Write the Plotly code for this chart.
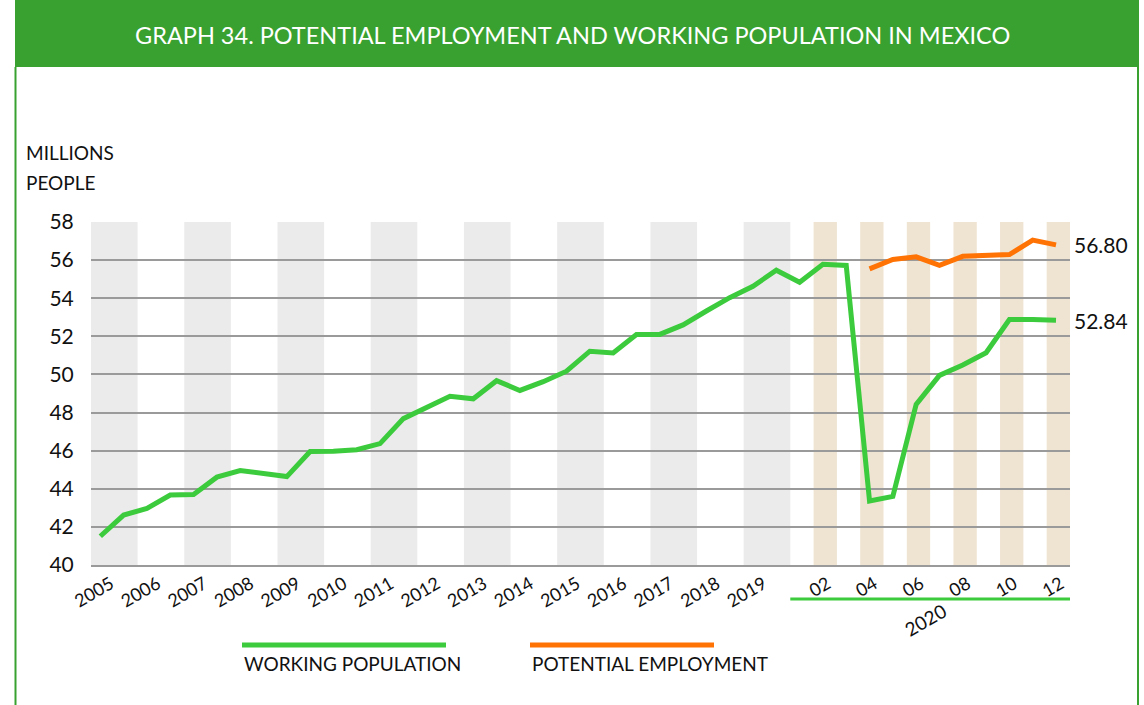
import plotly.graph_objects as go

# ---------------- data ----------------
years = [str(y) for y in range(2005, 2020)]
# working population, two observations per year 2005-2019 (millions)
wp_semi = [41.51, 42.62, 42.97, 43.67, 43.70, 44.61, 44.96, 44.80, 44.64, 45.96,
           45.97, 46.05, 46.37, 47.68, 48.28, 48.85, 48.72, 49.67, 49.16, 49.62,
           50.17, 51.22, 51.13, 52.10, 52.10, 52.60, 53.33, 54.03, 54.63, 55.47]
months_2020 = ["01", "02", "03", "04", "05", "06", "07", "08", "09", "10", "11", "12"]
wp_2020 = [54.84, 55.78, 55.72, 43.36, 43.60, 48.43, 49.95, 50.50, 51.14, 52.88, 52.88, 52.84]
pe_2020 = [None, None, None, 55.54, 56.03, 56.17, 55.73, 56.20, 56.25, 56.29, 57.05, 56.80]
y_ticks = [40, 42, 44, 46, 48, 50, 52, 54, 56, 58]
end_labels = ["56.80", "52.84"]

# ---------------- styling ----------------
GREEN = "#3CCB3C"
ORANGE = "#FF7304"
BAR = "#38A12F"
GRAY_BAND = "#EBEBEB"
TAN_BAND = "#EFE4D1"
FONT = "Lato"

W, H = 1144, 705
L, R, T, B = 91, 1070, 222, 565


def px(xp):
    return (xp - L) / (R - L)


def py(yp):
    return (B - yp) / (B - T)


n_semi = len(wp_semi)
off = 0.4
x_semi = [k + off for k in range(n_semi)]
x_month = [n_semi + i + off for i in range(len(months_2020))]

fig = go.Figure()

fig.add_trace(go.Scatter(x=x_semi + x_month, y=wp_semi + wp_2020, mode="lines",
                         line=dict(color=GREEN, width=5), hoverinfo="skip", showlegend=False))
fig.add_trace(go.Scatter(x=x_month, y=pe_2020, mode="lines",
                         line=dict(color=ORANGE, width=5), hoverinfo="skip", showlegend=False))

shapes = []
# year bands
for i, _ in enumerate(years):
    if i % 2 == 0:
        shapes.append(dict(type="rect", xref="x", yref="paper", x0=2 * i, x1=2 * i + 2, y0=0, y1=1,
                           fillcolor=GRAY_BAND, line=dict(width=0), layer="below"))
# month bands
for j, _ in enumerate(months_2020):
    if j % 2 == 1:
        shapes.append(dict(type="rect", xref="x", yref="paper", x0=n_semi + j, x1=n_semi + j + 1,
                           y0=0, y1=1, fillcolor=TAN_BAND, line=dict(width=0), layer="below"))

# title bar and frame
shapes.append(dict(type="rect", xref="paper", yref="paper", x0=px(15), x1=px(1139), y0=py(67), y1=py(0),
                   fillcolor=BAR, line=dict(width=0)))
shapes.append(dict(type="line", xref="paper", yref="paper", x0=px(15.5), x1=px(15.5), y0=py(67), y1=py(705),
                   line=dict(color=BAR, width=2)))
shapes.append(dict(type="line", xref="paper", yref="paper", x0=px(1138), x1=px(1138), y0=py(67), y1=py(705),
                   line=dict(color=BAR, width=2)))
# 2020 underline
shapes.append(dict(type="line", xref="x", yref="paper", x0=n_semi, x1=n_semi + len(months_2020),
                   y0=py(599), y1=py(599), line=dict(color=GREEN, width=3)))
# legend lines
shapes.append(dict(type="line", xref="paper", yref="paper", x0=px(242), x1=px(446), y0=py(645), y1=py(645),
                   line=dict(color=GREEN, width=5)))
shapes.append(dict(type="line", xref="paper", yref="paper", x0=px(530), x1=px(714), y0=py(645), y1=py(645),
                   line=dict(color=ORANGE, width=5)))

annotations = [
    dict(text="GRAPH 34. POTENTIAL EMPLOYMENT AND WORKING POPULATION IN MEXICO", xref="paper", yref="paper",
         x=px(572), y=py(35), showarrow=False, font=dict(family=FONT, size=23.5, color="white"),
         xanchor="center", yanchor="middle"),
    dict(text="MILLIONS", xref="paper", yref="paper", x=px(24), y=py(152), showarrow=False,
         font=dict(family=FONT, size=19, color="#111"), xanchor="left", yanchor="middle"),
    dict(text="PEOPLE", xref="paper", yref="paper", x=px(24), y=py(183), showarrow=False,
         font=dict(family=FONT, size=19, color="#111"), xanchor="left", yanchor="middle"),
    dict(text=end_labels[0], xref="paper", yref="y", x=px(1072), y=pe_2020[-1], showarrow=False,
         font=dict(family=FONT, size=21, color="#111"), xanchor="left", yanchor="middle"),
    dict(text=end_labels[1], xref="paper", yref="y", x=px(1072), y=wp_2020[-1], showarrow=False,
         font=dict(family=FONT, size=21, color="#111"), xanchor="left", yanchor="middle"),
    dict(text="2020", xref="x", yref="paper", x=n_semi + 5.8, y=py(619), showarrow=False, textangle=-30,
         font=dict(family=FONT, size=19, color="#111"), xanchor="center", yanchor="middle"),
    dict(text="WORKING POPULATION", xref="paper", yref="paper", x=px(242), y=py(663), showarrow=False,
         font=dict(family=FONT, size=19, color="#111"), xanchor="left", yanchor="middle"),
    dict(text="POTENTIAL EMPLOYMENT", xref="paper", yref="paper", x=px(530), y=py(663), showarrow=False,
         font=dict(family=FONT, size=19, color="#111"), xanchor="left", yanchor="middle"),
]

tickvals = [2 * i + 0.85 for i in range(len(years))] + [n_semi + j + 0.6 for j in range(1, 12, 2)]
ticktext = years + [months_2020[j] for j in range(1, 12, 2)]

fig.update_layout(
    width=W, height=H,
    margin=dict(l=L, r=W - R, t=T, b=H - B, autoexpand=False),
    paper_bgcolor="white", plot_bgcolor="white",
    shapes=shapes, annotations=annotations,
    font=dict(family=FONT, color="#111"),
    xaxis=dict(range=[0, n_semi + len(months_2020)], tickvals=tickvals, ticktext=ticktext,
               tickangle=-30, tickfont=dict(size=18, color="#111"), showgrid=False,
               showline=True, linecolor="#9a9a9a", linewidth=1.5, ticks="", zeroline=False,
               fixedrange=True),
    yaxis=dict(range=[40, 58], tickvals=y_ticks, tickfont=dict(size=21, color="#111"),
               showgrid=True, gridcolor="#9a9a9a", gridwidth=1.5, zeroline=False,
               ticks="outside", ticklen=12, tickcolor="rgba(0,0,0,0)", showline=False,
               fixedrange=True),
    showlegend=False,
)

fig.write_html("out.html", config={"displayModeBar": False},
               post_script="document.body.style.margin='0';")
